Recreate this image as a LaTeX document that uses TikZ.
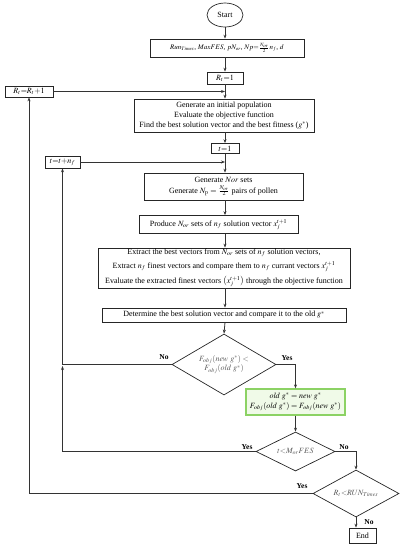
\documentclass[tikz,border=0pt]{standalone}
\usepackage{amsmath}
\usepackage{mathptmx}
\usepackage{fontspec}
\setmainfont{Liberation Serif}
\usetikzlibrary{arrows.meta,shapes.geometric}

\definecolor{boxgreen}{RGB}{140,210,100}
\definecolor{boxfill}{RGB}{240,250,232}

\begin{document}
\begin{tikzpicture}[x=1pt,y=-1pt,
    every node/.style={font=\fontsize{8}{9.6}\selectfont, inner sep=1pt, align=center},
    proc/.style={draw=black!85, line width=0.7pt, rectangle},
    decision/.style={draw=black!85, line width=0.7pt, diamond, aspect=1.7, inner sep=0pt, text=black!65},
    lbl/.style={font=\fontsize{7.5}{8}\selectfont\bfseries},
    arr/.style={draw=black!80, line width=0.8pt, -{Stealth[length=4pt,width=3pt]}}]
    \useasboundingbox (0,0) rectangle (406,550);

    % Inicio y parametros
    \node[proc, ellipse, minimum width=36, minimum height=24] (start) at (225,15) {Start};
    \node[proc, minimum width=154, minimum height=18, font=\fontsize{7}{8}\selectfont] (params) at (227,48)
        {$Run_{Times}$, $MaxFES$, $pN_{or}$, $Np{=}\tfrac{N_{or}}{2}n_f$, $d$};
    \node[proc, minimum width=36, minimum height=12] (rt1) at (225,78) {$R_t{=}1$};
    \node[proc, minimum width=48, minimum height=11] (rtinc) at (29,91.5) {$R_t{=}R_t{+}1$};

    % Poblacion inicial
    \node[proc, minimum width=180, minimum height=33] (pop) at (224,115.5)
        {Generate an initial population\\ Evaluate the objective function\\
         Find the best solution vector and the best fitness ($g^*$)};
    \node[proc, minimum width=28, minimum height=10] (t1) at (225,148.5) {$t{=}1$};
    \node[proc, minimum width=35, minimum height=12] (tinc) at (62.5,162) {$t{=}t{+}n_f$};

    % Bucle interno
    \node[proc, minimum width=159, minimum height=27] (gen) at (223.5,186.5)
        {Generate $Nor$ sets\\[1pt] Generate $N_{\mathrm{p}}=\tfrac{N_{or}}{2}$ pairs of pollen};
    \node[proc, minimum width=159, minimum height=18] (prod) at (218.5,224.5)
        {Produce $N_{or}$ sets of $n_f$ solution vector $x_j^{t+1}$};
    \node[proc, minimum width=252, minimum height=37] (extract) at (224,268)
        {Extract the best vectors from $N_{or}$ sets of $n_f$ solution vectors,\\[3pt]
         Extract $n_f$ finest vectors and compare them to $n_f$ currant vectors $x_j^{t+1}$\\[3pt]
         Evaluate the extracted finest vectors $\bigl(x_j^{t+1}\bigr)$ through the objective function};
    \node[proc, minimum width=244, minimum height=14] (determ) at (224,315)
        {Determine the best solution vector and compare it to the old $g^*$};

    % Decisiones
    \node[decision, minimum width=104, minimum height=61] (dia1) at (224,364.5)
        {$F_{obj}(\mathit{new}\ g^*)<$\\ $F_{obj}(\mathit{old}\ g^*)$};
    \node[proc, draw=boxgreen, fill=boxfill, line width=1.2pt, minimum width=99, minimum height=26] (upd) at (295.5,402)
        {$\mathit{old}\ g^*=\mathit{new}\ g^*$\\ $F_{obj}(\mathit{old}\ g^*)=F_{obj}(\mathit{new}\ g^*)$};
    \node[decision, minimum width=79, minimum height=39] (dia2) at (295.5,451.5) {$t{<}M_{or}FES$};
    \node[decision, minimum width=86, minimum height=47] (dia3) at (356,493.5) {$R_t{<}RUN_{Times}$};
    \node[proc, minimum width=27, minimum height=15] (end) at (362.5,535.5) {End};

    % Etiquetas
    \node[lbl] (no1) at (164,357) {No};
    \node[lbl] (yes1) at (287,358) {Yes};
    \node[lbl] (yes2) at (247,447) {Yes};
    \node[lbl] (no2) at (344,447) {No};
    \node[lbl] (yes3) at (302,486) {Yes};
    \node[lbl] (no3) at (369,522) {No};

    % Flechas principales
    \draw[arr] (start.south) -- (start.south |- params.north);
    \draw[arr] (rt1.south |- params.south) -- (rt1.north);
    \draw[arr] (rt1.south) -- (rt1.south |- pop.north);
    \draw[arr] (t1.north |- pop.south) -- (t1.north);
    \draw[arr] (t1.south) -- (t1.south |- gen.north);
    \draw[arr] (t1.south |- gen.south) -- (t1.south |- prod.north);
    \draw[arr] (t1.south |- prod.south) -- (t1.south |- extract.north);
    \draw[arr] (t1.south |- extract.south) -- (t1.south |- determ.north);
    \draw[arr] (t1.south |- determ.south) -- (dia1.north);
    \draw[arr] (dia1.east) -| (upd.north);
    \draw[arr] (upd.south) -- (dia2.north);
    \draw[arr] (dia2.east) -| (dia3.north);
    \draw[arr] (dia3.south) -- (dia3.south |- end.north);

    % Retornos
    \coordinate (jn) at (62.5,366);
    \draw[arr] (dia2.west) -| (jn);
    \draw[arr] (dia1.west) -| (tinc.south);
    \draw[arr] (dia3.west) -| (rtinc.south);
    \draw[arr] (tinc.east) -- (tinc.east -| t1.south);
    \draw[arr] (rtinc.east) -- (rtinc.east -| rt1.south);
\end{tikzpicture}
\end{document}
